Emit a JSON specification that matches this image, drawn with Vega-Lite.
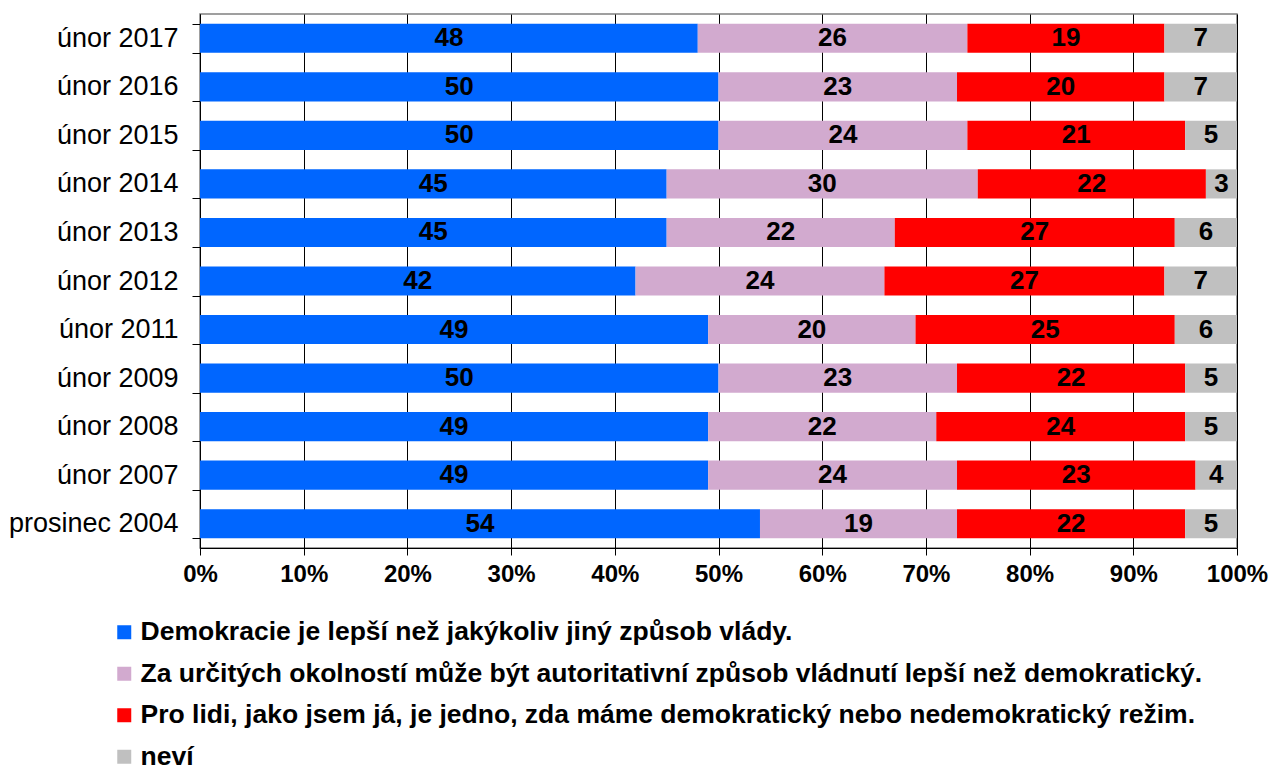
{
  "$schema": "https://vega.github.io/schema/vega-lite/v6.json",
  "width": 1037,
  "height": 534,
  "autosize": {"type": "none"},
  "padding": {"left": 200, "top": 14, "right": 32, "bottom": 219},
  "background": "white",
  "config": {
    "font": "Liberation Sans",
    "view": {"stroke": "#808080", "strokeWidth": 1.5}
  },
  "data": {
    "values": [
      {"period": "únor 2017", "k": 1, "v": 48}, {"period": "únor 2017", "k": 2, "v": 26}, {"period": "únor 2017", "k": 3, "v": 19}, {"period": "únor 2017", "k": 4, "v": 7},
      {"period": "únor 2016", "k": 1, "v": 50}, {"period": "únor 2016", "k": 2, "v": 23}, {"period": "únor 2016", "k": 3, "v": 20}, {"period": "únor 2016", "k": 4, "v": 7},
      {"period": "únor 2015", "k": 1, "v": 50}, {"period": "únor 2015", "k": 2, "v": 24}, {"period": "únor 2015", "k": 3, "v": 21}, {"period": "únor 2015", "k": 4, "v": 5},
      {"period": "únor 2014", "k": 1, "v": 45}, {"period": "únor 2014", "k": 2, "v": 30}, {"period": "únor 2014", "k": 3, "v": 22}, {"period": "únor 2014", "k": 4, "v": 3},
      {"period": "únor 2013", "k": 1, "v": 45}, {"period": "únor 2013", "k": 2, "v": 22}, {"period": "únor 2013", "k": 3, "v": 27}, {"period": "únor 2013", "k": 4, "v": 6},
      {"period": "únor 2012", "k": 1, "v": 42}, {"period": "únor 2012", "k": 2, "v": 24}, {"period": "únor 2012", "k": 3, "v": 27}, {"period": "únor 2012", "k": 4, "v": 7},
      {"period": "únor 2011", "k": 1, "v": 49}, {"period": "únor 2011", "k": 2, "v": 20}, {"period": "únor 2011", "k": 3, "v": 25}, {"period": "únor 2011", "k": 4, "v": 6},
      {"period": "únor 2009", "k": 1, "v": 50}, {"period": "únor 2009", "k": 2, "v": 23}, {"period": "únor 2009", "k": 3, "v": 22}, {"period": "únor 2009", "k": 4, "v": 5},
      {"period": "únor 2008", "k": 1, "v": 49}, {"period": "únor 2008", "k": 2, "v": 22}, {"period": "únor 2008", "k": 3, "v": 24}, {"period": "únor 2008", "k": 4, "v": 5},
      {"period": "únor 2007", "k": 1, "v": 49}, {"period": "únor 2007", "k": 2, "v": 24}, {"period": "únor 2007", "k": 3, "v": 23}, {"period": "únor 2007", "k": 4, "v": 4},
      {"period": "prosinec 2004", "k": 1, "v": 54}, {"period": "prosinec 2004", "k": 2, "v": 19}, {"period": "prosinec 2004", "k": 3, "v": 22}, {"period": "prosinec 2004", "k": 4, "v": 5}
    ]
  },
  "transform": [
    {"lookup": "k", "from": {"data": {"values": [
      {"k": 1, "cat": "Demokracie je lepší než jakýkoliv jiný způsob vlády."},
      {"k": 2, "cat": "Za určitých okolností může být autoritativní způsob vládnutí lepší než demokratický."},
      {"k": 3, "cat": "Pro lidi, jako jsem já, je jedno, zda máme demokratický nebo nedemokratický režim."},
      {"k": 4, "cat": "neví"}
    ]}, "key": "k", "fields": ["cat"]}},
    {"stack": "v", "groupby": ["period"], "sort": [{"field": "k", "order": "ascending"}], "as": ["v0", "v1"]},
    {"calculate": "(datum.v0 + datum.v1) / 2", "as": "mid"}
  ],
  "encoding": {
    "y": {
      "field": "period", "type": "nominal", "sort": null, "title": null,
      "scale": {"paddingInner": 0.4, "paddingOuter": 0.2},
      "axis": {
        "tickBand": "extent", "tickSize": 8, "tickColor": "black", "domainColor": "black",
        "labelFontSize": 27, "labelColor": "black", "labelPadding": 14, "labelFont": "Liberation Sans"
      }
    }
  },
  "layer": [
    {
      "mark": {"type": "bar"},
      "encoding": {
        "x": {
          "field": "v0", "type": "quantitative", "title": null,
          "scale": {"domain": [0, 100], "nice": false},
          "axis": {
            "values": [0, 10, 20, 30, 40, 50, 60, 70, 80, 90, 100],
            "labelExpr": "datum.value + '%'",
            "grid": true, "gridColor": "black", "gridOpacity": 1, "gridWidth": 1,
            "tickSize": 7, "tickColor": "black", "domainColor": "black",
            "labelFontSize": 24, "labelFontWeight": "bold", "labelColor": "black", "labelPadding": 7,
            "labelFlush": false
          }
        },
        "x2": {"field": "v1"},
        "color": {
          "field": "cat", "type": "nominal", "title": null,
          "scale": {
            "domain": [
              "Demokracie je lepší než jakýkoliv jiný způsob vlády.",
              "Za určitých okolností může být autoritativní způsob vládnutí lepší než demokratický.",
              "Pro lidi, jako jsem já, je jedno, zda máme demokratický nebo nedemokratický režim.",
              "neví"
            ],
            "range": ["#0066FF", "#D2AACF", "#FF0000", "#C0C0C0"]
          },
          "legend": {
            "orient": "none", "legendX": -89, "legendY": 605, "direction": "vertical",
            "symbolType": "square", "symbolSize": 196, "symbolStrokeWidth": 0, "symbolOpacity": 1,
            "labelFontSize": 26.5, "labelFontWeight": "bold", "labelColor": "black", "labelLimit": 1200,
            "labelOffset": 3, "rowPadding": 14.5
          }
        }
      }
    },
    {
      "mark": {"type": "text", "fontSize": 26, "fontWeight": "bold", "color": "black", "baseline": "middle", "align": "center"},
      "encoding": {
        "x": {"field": "mid", "type": "quantitative"},
        "text": {"field": "v", "type": "quantitative"}
      }
    }
  ]
}
